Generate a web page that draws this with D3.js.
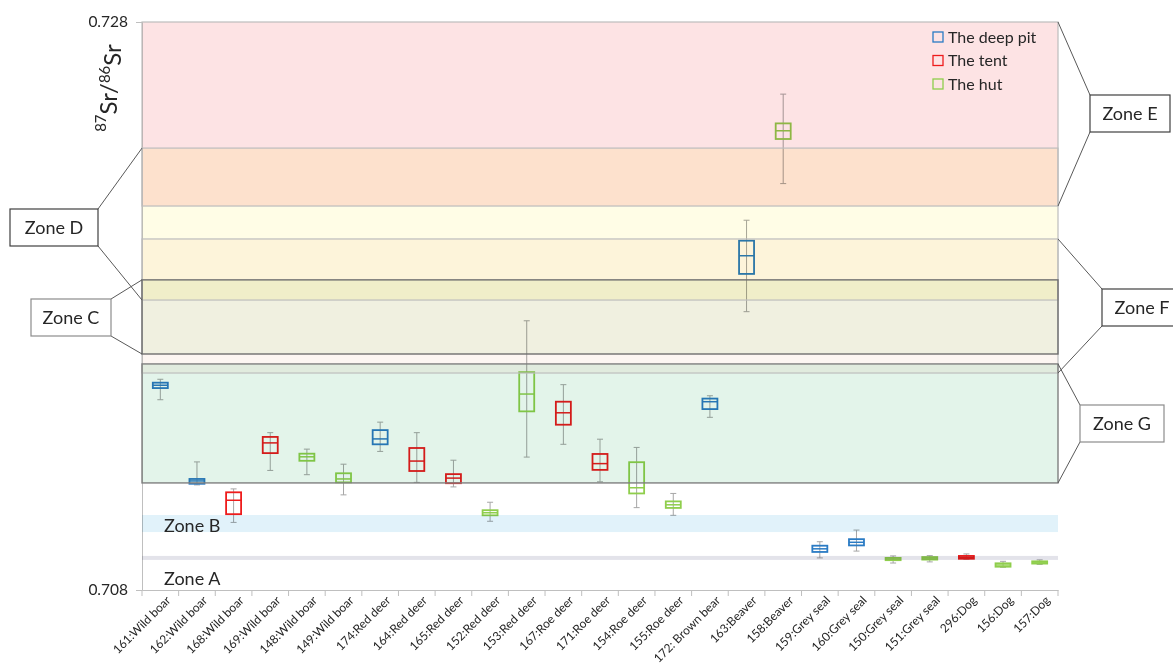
<!DOCTYPE html>
<html lang="en">
<head>
<meta charset="utf-8">
<title>Sr isotope ratios by zone</title>
<script src="https://d3js.org/d3.v7.min.js"></script>
<style>
  body { margin: 0; background: #fff; }
  svg text { font-family: Lato, "Liberation Sans", sans-serif; fill: #262626; }
</style>
</head>
<body>
<div id="chart"></div>
<script>
// samples
const categories = ["161:Wild boar", "162:Wild boar", "168:Wild boar", "169:Wild boar", "148:Wild boar",
  "149:Wild boar", "174:Red deer", "164:Red deer", "165:Red deer", "152:Red deer", "153:Red deer",
  "167:Roe deer", "171:Roe deer", "154:Roe deer", "155:Roe deer", "172: Brown bear", "163:Beaver",
  "158:Beaver", "159:Grey seal", "160:Grey seal", "150:Grey seal", "151:Grey seal", "296:Dog",
  "156:Dog", "157:Dog"];
// 0 = deep pit, 1 = tent, 2 = hut
const site = [0, 0, 1, 1, 2, 2, 0, 1, 1, 2, 2, 1, 1, 2, 2, 0, 0, 2, 0, 0, 2, 2, 1, 2, 2];

const whiskerLow = [0.71470, 0.71170, 0.71038, 0.71221, 0.71206, 0.71135, 0.71288, 0.71179, 0.71163,
  0.71042, 0.71268, 0.71313, 0.71181, 0.71090, 0.71063, 0.71408, 0.71780, 0.72231, 0.70913, 0.70937,
  0.70895, 0.70899, 0.70908, 0.70880, 0.70890];
const q1 = [0.71511, 0.71174, 0.71067, 0.71282, 0.71255, 0.71179, 0.71313, 0.71219, 0.71176,
  0.71063, 0.71429, 0.71382, 0.71223, 0.71140, 0.71089, 0.71437, 0.71913, 0.72388, 0.70934, 0.70957,
  0.70905, 0.70907, 0.70910, 0.70882, 0.70893];
const median = [0.71521, 0.71184, 0.71116, 0.71318, 0.71269, 0.71191, 0.71332, 0.71254, 0.71194,
  0.71072, 0.71490, 0.71424, 0.71245, 0.71160, 0.71100, 0.71463, 0.71977, 0.72417, 0.70945, 0.70968,
  0.70909, 0.70912, 0.70915, 0.70888, 0.70898];
const q3 = [0.71530, 0.71191, 0.71144, 0.71339, 0.71280, 0.71211, 0.71363, 0.71300, 0.71208,
  0.71081, 0.71567, 0.71463, 0.71279, 0.71250, 0.71112, 0.71474, 0.72030, 0.72443, 0.70956, 0.70979,
  0.70913, 0.70916, 0.70920, 0.70894, 0.70901];
const whiskerHigh = [0.71542, 0.71251, 0.71156, 0.71354, 0.71296, 0.71243, 0.71391, 0.71354, 0.71257,
  0.71109, 0.71748, 0.71523, 0.71331, 0.71302, 0.71140, 0.71484, 0.72102, 0.72546, 0.70970, 0.71011,
  0.70920, 0.70921, 0.70927, 0.70901, 0.70906];

// reference zones
const zoneNames = ["Zone E", "Zone D", "Zone F", "Zone C", "Zone G", "Zone B", "Zone A"];
const zoneLow = [0.72152, 0.71821, 0.71564, 0.71631, 0.71177, 0.71004, 0.70906];
const zoneHigh = [0.72800, 0.72356, 0.72036, 0.71892, 0.71596, 0.71064, 0.70920];

const siteNames = ["The deep pit", "The tent", "The hut"];
const yTicks = [0.708, 0.728];

// styling
const siteColors = ["#2a7bc4", "#ee1c1c", "#8fce4c"];
const zoneFill = ["#fde3e4", "#fffde6", "#fdf6f2", "#f2f9ec", "#e3f4ea", "#e1f2fa", "#e3e3ea"];
const zoneStroke = ["#bdbdbd", "#bdbdbd", "#bdbdbd", "#6f6f6f", "#7f7f7f", "none", "none"];
// label boxes: side of plot the callout attaches to, box x/y/width
const callouts = {
  "Zone E": {side: "right", x: 1090, y: 95, w: 80},
  "Zone D": {side: "left", x: 10, y: 209, w: 88},
  "Zone F": {side: "right", x: 1102, y: 289, w: 80},
  "Zone C": {side: "left", x: 31, y: 299, w: 80, light: true},
  "Zone G": {side: "right", x: 1080, y: 405, w: 84, light: true}
};

const W = 1173, H = 670;
const x0 = 142, x1 = 1058, yTop = 22, yBot = 590;

const svg = d3.select("#chart").append("svg")
  .attr("width", W)
  .attr("height", H);

svg.append("rect").attr("width", W).attr("height", H).attr("fill", "#fff");

const x = d3.scaleBand().domain(categories).range([x0, x1]).padding(0);
const y = d3.scaleLinear().domain([0.708, 0.728]).range([yBot, yTop]);

// axes
const yAxis = svg.append("g")
  .attr("transform", "translate(" + x0 + ",0)")
  .call(d3.axisLeft(y).tickValues(yTicks).tickFormat(d3.format(".3f")).tickSize(6).tickPadding(8));
yAxis.select(".domain").attr("stroke", "#bfbfbf");
yAxis.selectAll(".tick line").attr("stroke", "#bfbfbf");
yAxis.selectAll("text").style("font-size", "15.5px").attr("fill", "#262626");

const xAxis = svg.append("g")
  .attr("transform", "translate(0," + yBot + ")")
  .call(d3.axisBottom(x).tickSize(0).tickSizeOuter(0));
xAxis.select(".domain").attr("stroke", "#bfbfbf");
xAxis.selectAll("text")
  .style("font-size", "12px")
  .attr("fill", "#262626")
  .attr("text-anchor", "end")
  .attr("transform", "translate(6,6) rotate(-45)")
  .attr("dy", "0.35em");

// tick marks between categories
svg.append("g").selectAll("line")
  .data(d3.range(categories.length + 1))
  .join("line")
  .attr("x1", i => x0 + i * x.bandwidth())
  .attr("x2", i => x0 + i * x.bandwidth())
  .attr("y1", yBot)
  .attr("y2", yBot + 6)
  .attr("stroke", "#bfbfbf");

// y title
const yt = svg.append("text")
  .attr("transform", "translate(113,88) rotate(-90)")
  .attr("text-anchor", "middle")
  .style("font-size", "24px");
yt.append("tspan").text("87").attr("dy", "-0.45em").style("font-size", "15px");
yt.append("tspan").text("Sr/").attr("dy", "0.45em");
yt.append("tspan").text("86").attr("dy", "-0.45em").style("font-size", "15px");
yt.append("tspan").text("Sr").attr("dy", "0.45em");

// boxes
const bw = 15, cap = 6;
const boxes = svg.append("g").selectAll("g")
  .data(categories.map((c, i) => i))
  .join("g")
  .attr("transform", i => "translate(" + (x(categories[i]) + x.bandwidth() / 2) + ",0)");

boxes.append("line")
  .attr("y1", i => y(whiskerLow[i]))
  .attr("y2", i => y(whiskerHigh[i]))
  .attr("stroke", "#a6a6a6");
boxes.append("line")
  .attr("x1", -cap / 2).attr("x2", cap / 2)
  .attr("y1", i => y(whiskerLow[i])).attr("y2", i => y(whiskerLow[i]))
  .attr("stroke", "#a6a6a6");
boxes.append("line")
  .attr("x1", -cap / 2).attr("x2", cap / 2)
  .attr("y1", i => y(whiskerHigh[i])).attr("y2", i => y(whiskerHigh[i]))
  .attr("stroke", "#a6a6a6");
boxes.append("rect")
  .attr("x", -bw / 2)
  .attr("width", bw)
  .attr("y", i => y(q3[i]))
  .attr("height", i => y(q1[i]) - y(q3[i]))
  .attr("fill", "none")
  .attr("stroke", i => siteColors[site[i]])
  .attr("stroke-width", 1.8);
boxes.append("line")
  .attr("x1", -bw / 2).attr("x2", bw / 2)
  .attr("y1", i => y(median[i])).attr("y2", i => y(median[i]))
  .attr("stroke", i => siteColors[site[i]])
  .attr("stroke-width", 1.5);

// zone overlays, multiplied over the boxes
const zones = zoneNames.map((n, i) => i);
svg.append("g").selectAll("rect")
  .data(zones)
  .join("rect")
  .attr("x", x0)
  .attr("width", x1 - x0)
  .attr("y", i => y(zoneHigh[i]))
  .attr("height", i => y(zoneLow[i]) - y(zoneHigh[i]))
  .attr("fill", i => zoneFill[i])
  .style("mix-blend-mode", "multiply");
svg.append("g").selectAll("rect")
  .data(zones.filter(i => zoneStroke[i] !== "none"))
  .join("rect")
  .attr("x", x0)
  .attr("width", x1 - x0)
  .attr("y", i => y(zoneHigh[i]))
  .attr("height", i => y(zoneLow[i]) - y(zoneHigh[i]))
  .attr("fill", "none")
  .attr("stroke", i => zoneStroke[i])
  .attr("stroke-width", i => zoneStroke[i] === "#bdbdbd" ? 1.2 : 1.4);

// Zone A / B labels inside plot
["Zone B", "Zone A"].forEach(n => {
  const i = zoneNames.indexOf(n);
  svg.append("text")
    .attr("x", 164)
    .attr("y", n === "Zone B" ? y(zoneLow[i]) : y(zoneLow[i]) + 25)
    .style("font-size", "18px")
    .text(n);
});

// callouts
const bh = 37;
Object.keys(callouts).forEach(n => {
  const c = callouts[n], i = zoneNames.indexOf(n);
  const edge = c.side === "left" ? x0 : x1;
  const bx = c.side === "left" ? c.x + c.w : c.x;
  const col = "#595959";
  svg.append("line")
    .attr("x1", bx).attr("y1", c.y)
    .attr("x2", edge).attr("y2", y(zoneHigh[i]))
    .attr("stroke", col);
  svg.append("line")
    .attr("x1", bx).attr("y1", c.y + bh)
    .attr("x2", edge).attr("y2", y(zoneLow[i]))
    .attr("stroke", col);
  svg.append("rect")
    .attr("x", c.x).attr("y", c.y)
    .attr("width", c.w).attr("height", bh)
    .attr("fill", "#fff")
    .attr("stroke", c.light ? "#8c8c8c" : "#404040")
    .attr("stroke-width", 1.2);
  svg.append("text")
    .attr("x", c.x + c.w / 2)
    .attr("y", c.y + bh / 2)
    .attr("dy", "0.35em")
    .attr("text-anchor", "middle")
    .style("font-size", "18px")
    .text(n);
});

// legend
const leg = svg.append("g").attr("transform", "translate(933,37)");
siteNames.forEach((s, i) => {
  leg.append("rect")
    .attr("x", 0).attr("y", i * 23.5 - 5)
    .attr("width", 10).attr("height", 10)
    .attr("fill", "none")
    .attr("stroke", siteColors[i])
    .attr("stroke-width", 1.3);
  leg.append("text")
    .attr("x", 15).attr("y", i * 23.5)
    .attr("dy", "0.35em")
    .style("font-size", "16px")
    .text(s);
});
</script>
</body>
</html>
